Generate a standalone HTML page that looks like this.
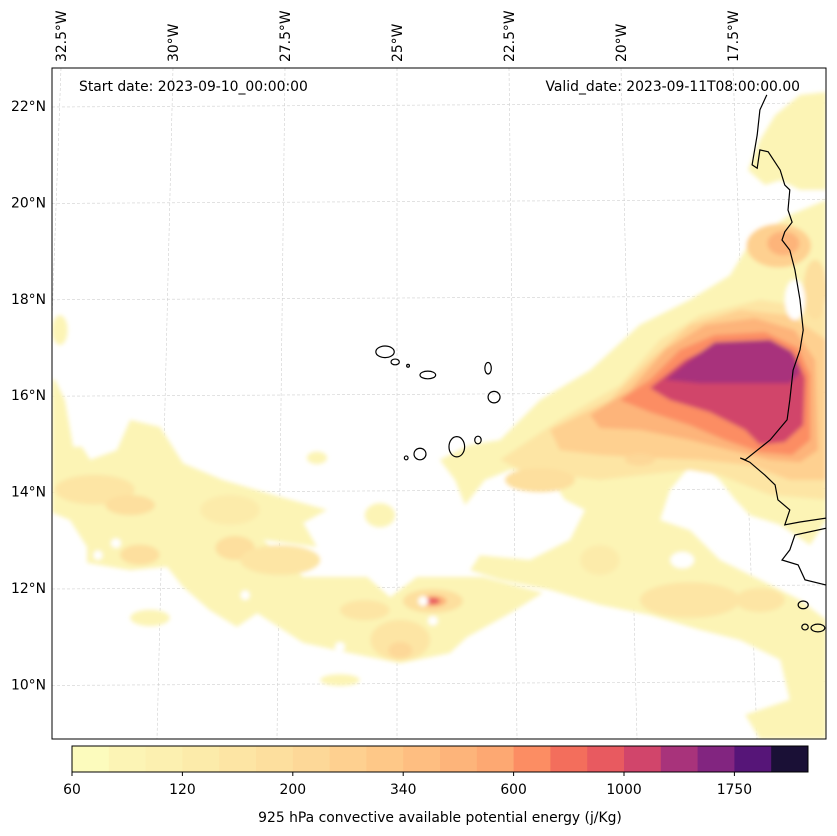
<!DOCTYPE html>
<html><head><meta charset="utf-8"><style>
html,body{margin:0;padding:0;background:#fff;}
svg{display:block;font-family:"DejaVu Sans","Liberation Sans",sans-serif;}
</style></head><body>
<svg id="chart" width="837" height="836" viewBox="0 0 837 836" xmlns="http://www.w3.org/2000/svg">
<defs>
<clipPath id="mapclip"><rect x="52" y="68" width="774" height="671"/></clipPath>
<filter id="soft" x="-5%" y="-5%" width="110%" height="110%"><feGaussianBlur stdDeviation="2"/></filter>
</defs>
<g id="grid" clip-path="url(#mapclip)"></g>
<g id="fields" clip-path="url(#mapclip)" filter="url(#soft)"></g>
<g id="coast" clip-path="url(#mapclip)"></g>
<rect x="52" y="68" width="774" height="671" fill="none" stroke="#000" stroke-width="1"/>
<g id="lonlabels"></g>
<g id="latlabels"></g>
<text x="79" y="91" font-size="13.9">Start date: 2023-09-10_00:00:00</text>
<text x="800" y="91" font-size="13.9" text-anchor="end">Valid_date: 2023-09-11T08:00:00.00</text>
<g id="colorbar"></g>
<text x="440" y="822" font-size="13.9" text-anchor="middle">925 hPa convective available potential energy (j/Kg)</text>
</svg>
<script>
// ---- data ----
const levels = [60,80,100,120,140,160,200,240,280,340,400,480,600,700,850,1000,1250,1500,1750,2000,2500];
const levelColors = ['#fcfbbd','#fcf4b5','#fcf0b0','#fcebaa','#fde5a4','#fddf9e','#fdd898','#fed090','#fec888','#febe81','#fdb47a','#fda872','#fc8d63','#f36e5c','#e85a60','#d1456b','#a8337b','#822580','#561578','#1a1036'];
const colorbarTickLabels = ['60','120','200','340','600','1000','1750'];
const lonTicks = [-32.5,-30,-27.5,-25,-22.5,-20,-17.5,-15];
const lonTickLabels = ['32.5°W','30°W','27.5°W','25°W','22.5°W','20°W','17.5°W',''];
const latTicks = [10,12,14,16,18,20,22];
const latTickLabels = ['10°N','12°N','14°N','16°N','18°N','20°N','22°N'];

// contour polygons
const polyValues = [90,90,90,150,250,420,650,1100,1300];
const polyPoints = [
 [-24.07,14.66,-23.41,14.97,-22.76,15.07,-21.89,15.90,-20.80,16.52,-19.72,17.46,-18.63,17.98,-17.76,18.49,-17.43,19.01,-17.11,19.32,-16.46,19.74,-15.67,20.05,-15.67,13.41,-16.02,12.89,-16.67,13.31,-17.33,13.51,-17.65,13.83,-17.98,14.24,-18.52,14.66,-19.07,14.03,-19.28,13.41,-18.63,13.20,-17.98,12.58,-17.11,12.17,-16.24,11.75,-15.67,11.34,-15.67,8.87,-17.11,8.87,-17.43,9.37,-16.46,9.68,-16.67,10.51,-17.54,10.92,-18.41,11.13,-19.50,11.44,-20.59,11.65,-21.67,11.96,-22.76,12.17,-23.41,12.37,-23.20,12.68,-22.11,12.58,-21.24,13.00,-20.91,13.62,-21.35,13.83,-21.78,14.45,-22.54,14.45,-23.09,14.24,-23.52,13.72,-23.74,14.24],
 [-17.37,20.67,-17.11,21.29,-16.78,21.81,-16.24,22.23,-15.67,22.29,-15.67,20.26,-16.24,20.26,-16.67,20.46,-17.00,20.36],
 [-32.43,16.32,-32.22,15.90,-32.04,14.93,-31.85,14.93,-31.67,14.66,-31.09,14.86,-30.80,15.49,-30.15,15.34,-29.65,14.59,-28.78,14.24,-27.83,13.97,-26.52,13.62,-27.04,13.35,-26.74,12.85,-27.91,13.00,-27.04,12.23,-25.65,12.23,-25.15,11.81,-24.57,12.23,-23.13,12.23,-21.83,11.90,-22.54,11.48,-23.48,10.98,-23.85,10.65,-24.93,10.44,-26.02,10.65,-27.04,10.86,-28.04,11.48,-28.48,11.19,-29.07,11.54,-29.65,12.02,-30.00,12.44,-30.80,12.37,-31.74,12.52,-31.74,12.85,-32.11,13.41,-32.5,13.56,-32.5,16.32],
 [-22.76,14.66,-21.46,15.49,-20.15,16.21,-19.28,17.15,-18.41,17.66,-17.11,17.98,-15.67,17.77,-15.67,13.83,-16.89,13.93,-17.98,14.34,-18.63,14.45,-19.72,14.34,-20.59,14.24,-21.46,14.34,-22.33,14.45],
 [-21.67,15.28,-20.37,15.90,-19.50,16.73,-18.63,17.46,-17.54,17.77,-16.46,17.66,-15.67,17.15,-15.67,14.24,-16.46,14.24,-17.33,14.55,-18.41,14.66,-19.50,14.70,-20.59,14.76,-21.46,14.86],
 [-20.80,15.59,-19.93,16.11,-19.17,16.94,-18.30,17.46,-17.22,17.60,-16.35,17.35,-15.91,16.73,-15.85,14.86,-16.24,14.61,-16.89,14.66,-17.76,14.86,-18.63,15.07,-19.72,15.28,-20.59,15.32],
 [-20.15,15.90,-19.50,16.32,-18.85,16.94,-18.09,17.25,-17.00,17.31,-16.28,16.98,-16.02,16.42,-16.02,15.07,-16.41,14.76,-17.11,14.82,-17.87,15.07,-18.63,15.38,-19.50,15.65],
 [-19.50,16.15,-18.74,16.73,-18.09,17.04,-17.00,17.08,-16.35,16.83,-16.13,16.36,-16.17,15.38,-16.57,15.03,-17.11,14.97,-17.43,15.28,-18.20,15.65,-19.07,15.90],
 [-19.17,16.32,-18.63,16.73,-18.09,17.10,-16.89,17.15,-16.41,16.90,-16.24,16.48,-16.46,16.25,-17.54,16.25,-18.41,16.25]
];
// elliptical patches
const blobLon = [-32.33,-26.74,-25.37,-30.37,-26.24,-31.57,-30.80,-28.52,-27.54,-30.59,-28.63,-24.93,-24.93,-25.70,-24.22,-24.22,-24.22,-16.70,-16.60,-15.91,-18.63,-20.59,-17.11,-19.72,-21.89,-24.43,-24.22,-26.24,-31.11,-31.50,-28.30,-17.98,-18.80,-16.35];
const blobLat = [17.35,14.70,13.51,11.38,10.09,14.04,13.72,12.83,12.58,12.69,13.62,10.92,10.71,11.54,11.73,11.73,11.73,19.10,19.15,18.19,11.75,12.58,11.75,14.66,14.24,11.73,11.32,10.78,12.93,12.68,11.85,13.62,12.58,17.98];
const blobRLon = [0.17,0.22,0.33,0.43,0.43,0.87,0.54,0.43,0.87,0.43,0.65,0.65,0.26,0.54,0.65,0.30,0.15,0.70,0.35,0.26,1.09,0.43,0.54,0.33,0.76,0.11,0.11,0.11,0.11,0.10,0.10,0.43,0.26,0.22];
const blobRLat = [0.31,0.13,0.25,0.17,0.12,0.31,0.21,0.25,0.31,0.21,0.31,0.42,0.17,0.21,0.25,0.12,0.07,0.45,0.25,0.62,0.37,0.31,0.25,0.12,0.25,0.10,0.10,0.10,0.10,0.10,0.10,0.15,0.17,0.42];
const blobValues = [90,90,90,90,90,150,170,170,150,170,130,150,210,150,170,420,900,250,400,170,150,130,150,210,170,0,0,0,0,0,0,0,0,0];

// coastlines
const coastLines = [
 [-16.96,22.23,-17.11,21.92,-17.17,21.40,-17.28,20.78,-17.17,20.71,-17.11,21.09,-16.93,21.05,-16.67,20.67,-16.57,20.36,-16.46,20.26,-16.50,19.84,-16.41,19.59,-16.57,19.39,-16.63,19.22,-16.46,19.01,-16.35,18.60,-16.24,17.98,-16.17,17.35,-16.24,16.94,-16.39,16.52,-16.46,15.90,-16.52,15.49,-16.89,15.07,-17.43,14.66,-17.54,14.70,-17.33,14.61,-17.00,14.34,-16.78,14.14,-16.72,13.83,-16.46,13.62,-16.57,13.31,-16.24,13.37,-15.67,13.45],
 [-15.67,13.24,-16.35,13.10,-16.46,12.79,-16.63,12.58,-16.28,12.48,-16.13,12.17,-15.67,12.06]
];
const islandLon = [-25.26,-25.04,-24.76,-24.33,-23.02,-22.89,-24.50,-24.80,-23.70,-23.24,-16.17,-15.85,-16.13];
const islandLat = [16.90,16.69,16.61,16.42,16.56,15.96,14.78,14.70,14.93,15.07,11.65,11.17,11.19];
const islandRLon = [0.20,0.09,0.03,0.17,0.07,0.13,0.13,0.04,0.17,0.07,0.11,0.15,0.07];
const islandRLat = [0.12,0.06,0.03,0.08,0.12,0.12,0.12,0.04,0.21,0.08,0.08,0.08,0.06];

// ---- axis functions ----
const NS = 'http://www.w3.org/2000/svg';
const MAP = {x0:52, y0:68, x1:826, y1:739};
function px(lon){ return 397 + (lon + 25) * 46; }
function py(lat){ return 106 + (22 - lat) * 48.2; }
function gridX(lon, y){ const k = 44.8 + (y - MAP.y0) / (MAP.y1 - MAP.y0) * 3.2; return 397 + (lon + 25) * k; }
function colorFor(v){
  if (v < levels[0]) return '#ffffff';
  for (let i = 0; i < levels.length - 1; i++) if (v < levels[i+1]) return levelColors[i];
  return levelColors[levelColors.length - 1];
}
function mk(tag, parent){ const e = document.createElementNS(NS, tag); parent.appendChild(e); return e; }

// graticule
const grid = document.getElementById('grid');
latTicks.forEach(function(lat){
  const l = mk('line', grid);
  
  
  l.setAttribute('x1', MAP.x0); l.setAttribute('x2', MAP.x1);
  l.setAttribute('y1', py(lat) + 1); l.setAttribute('y2', py(lat) - 3);
  l.setAttribute('stroke', '#cfcfcf'); l.setAttribute('stroke-width', '0.6'); l.setAttribute('stroke-dasharray', '3,2');
});
lonTicks.forEach(function(lon){
  const l = mk('line', grid);
  
  
  l.setAttribute('x1', gridX(lon, MAP.y0)); l.setAttribute('y1', MAP.y0);
  l.setAttribute('x2', gridX(lon, MAP.y1)); l.setAttribute('y2', MAP.y1);
  l.setAttribute('stroke', '#cfcfcf'); l.setAttribute('stroke-width', '0.6'); l.setAttribute('stroke-dasharray', '3,2');
});

// fields
const fields = document.getElementById('fields');
polyPoints.forEach(function(pts, i){
  const p = mk('polygon', fields);
  
  
  let s = [];
  for (let j = 0; j < pts.length; j += 2) s.push(px(pts[j]).toFixed(1) + ',' + py(pts[j+1]).toFixed(1));
  p.setAttribute('points', s.join(' '));
  p.setAttribute('fill', colorFor(polyValues[i]));
});
blobValues.forEach(function(v, i){
  const e = mk('ellipse', fields);
  
  
  e.setAttribute('cx', px(blobLon[i])); e.setAttribute('cy', py(blobLat[i]));
  e.setAttribute('rx', blobRLon[i] * 46); e.setAttribute('ry', blobRLat[i] * 48.2);
  e.setAttribute('fill', colorFor(v));
});

// coastlines
const coast = document.getElementById('coast');
coastLines.forEach(function(pts){
  const p = mk('polyline', coast);
  
  
  let s = [];
  for (let j = 0; j < pts.length; j += 2) s.push(px(pts[j]).toFixed(1) + ',' + py(pts[j+1]).toFixed(1));
  p.setAttribute('points', s.join(' '));
  p.setAttribute('fill', 'none'); p.setAttribute('stroke', '#000'); p.setAttribute('stroke-width', '1.2');
});
islandLon.forEach(function(lon, i){
  const e = mk('ellipse', coast);
  
  
  e.setAttribute('cx', px(lon)); e.setAttribute('cy', py(islandLat[i]));
  e.setAttribute('rx', islandRLon[i] * 46); e.setAttribute('ry', islandRLat[i] * 48.2);
  e.setAttribute('fill', 'none'); e.setAttribute('stroke', '#000'); e.setAttribute('stroke-width', '1.2');
});

// axis labels
const lonG = document.getElementById('lonlabels');
lonTicks.forEach(function(lon, i){
  if (!lonTickLabels[i]) return;
  const x = gridX(lon, MAP.y0);
  const t = mk('text', lonG);
  
  
  t.setAttribute('transform', 'translate(' + (x + 5) + ',62) rotate(-90)');
  t.setAttribute('font-size', '13.9');
  t.textContent = lonTickLabels[i];
});
const latG = document.getElementById('latlabels');
latTicks.forEach(function(lat, i){
  const t = mk('text', latG);
  
  
  t.setAttribute('x', 46); t.setAttribute('y', py(lat) + 5);
  t.setAttribute('text-anchor', 'end'); t.setAttribute('font-size', '13.9');
  t.textContent = latTickLabels[i];
});

// colorbar
const cb = document.getElementById('colorbar');
const CB = {x0:72, x1:808, y0:746, y1:772};
const nb = levelColors.length;
const bw = (CB.x1 - CB.x0) / nb;
function cbX(idx){ return CB.x0 + idx * bw; }
levelColors.forEach(function(c, i){
  const r = mk('rect', cb);
  
  
  r.setAttribute('x', cbX(i)); r.setAttribute('y', CB.y0);
  r.setAttribute('width', bw + 0.5); r.setAttribute('height', CB.y1 - CB.y0);
  r.setAttribute('fill', c);
});
const frame = mk('rect', cb);


frame.setAttribute('x', CB.x0); frame.setAttribute('y', CB.y0);
frame.setAttribute('width', CB.x1 - CB.x0); frame.setAttribute('height', CB.y1 - CB.y0);
frame.setAttribute('fill', 'none'); frame.setAttribute('stroke', '#000'); frame.setAttribute('stroke-width', '1');
colorbarTickLabels.forEach(function(lbl, i){
  const idx = levels.indexOf(Number(lbl));
  const x = cbX(idx);
  const tk = mk('line', cb);
  
  
  tk.setAttribute('x1', x); tk.setAttribute('x2', x);
  tk.setAttribute('y1', CB.y1); tk.setAttribute('y2', CB.y1 + 4);
  tk.setAttribute('stroke', '#000');
  const t = mk('text', cb);
  
  
  t.setAttribute('x', x); t.setAttribute('y', 794);
  t.setAttribute('text-anchor', 'middle'); t.setAttribute('font-size', '13.9');
  t.textContent = lbl;
});
</script>
</body></html>
